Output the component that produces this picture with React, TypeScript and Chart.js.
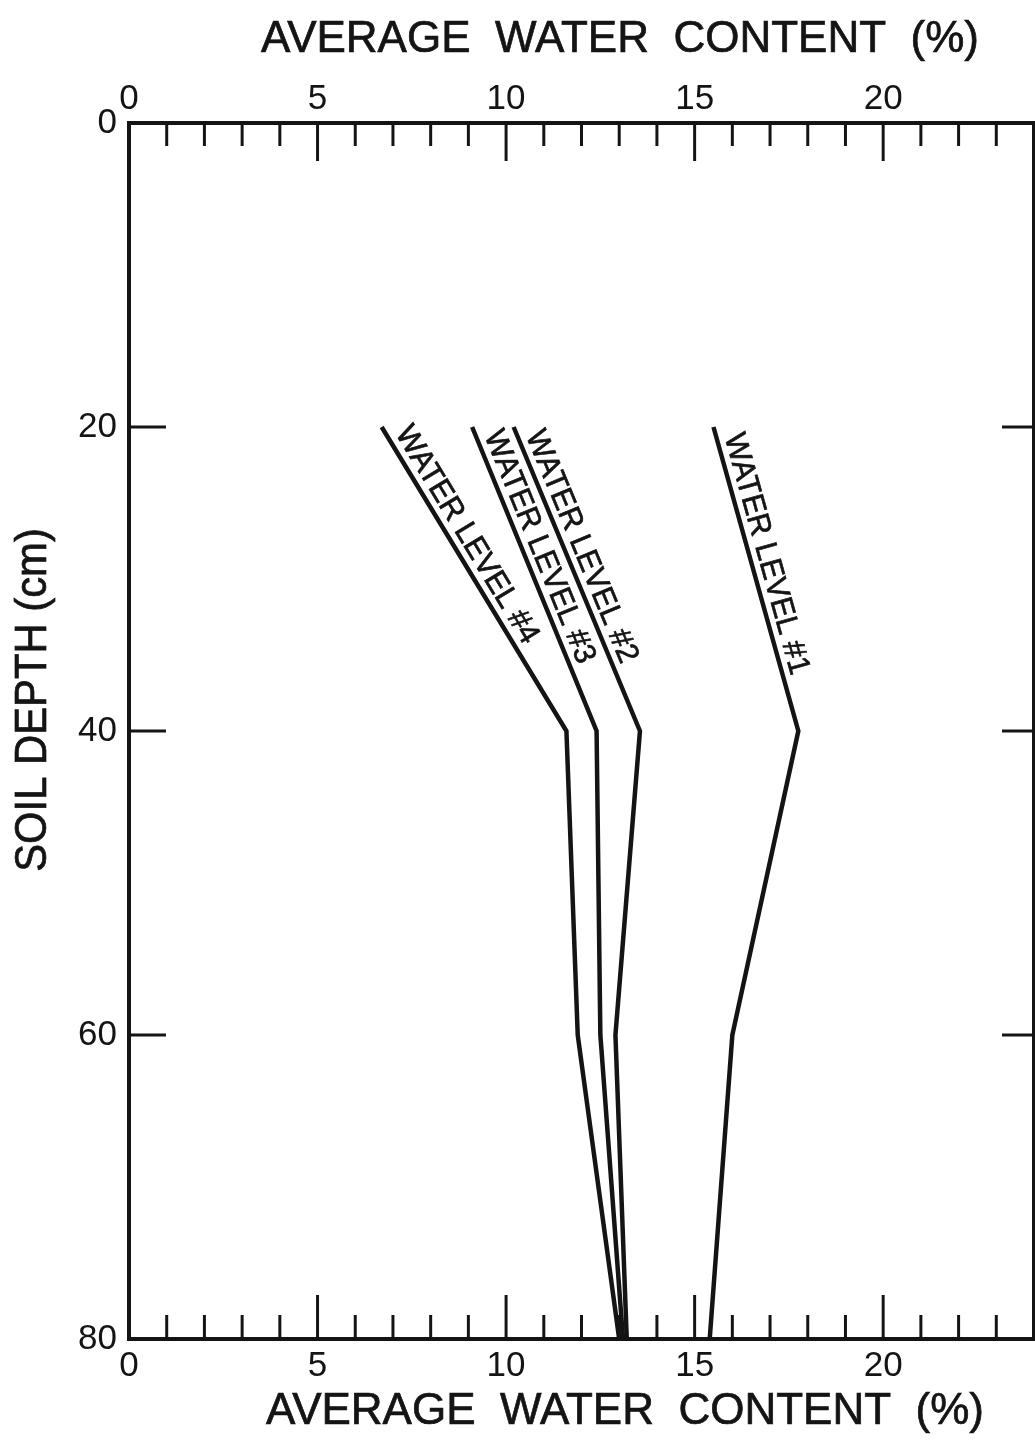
import React, { useEffect, useRef } from "react";
import { Chart, registerables } from "chart.js";

Chart.register(...registerables);

// ---- data ----
const depths = [20, 40, 60, 80];
const level1 = [15.5, 17.75, 16.0, 15.4];
const level2 = [10.2, 13.55, 12.9, 13.2];
const level3 = [9.1, 12.4, 12.5, 13.1];
const level4 = [6.7, 11.6, 11.9, 13.0];
const seriesNames = ["WATER LEVEL #1", "WATER LEVEL #2", "WATER LEVEL #3", "WATER LEVEL #4"];
const xMajorTicks = [0, 5, 10, 15, 20];
const xMinorTicks = [1, 2, 3, 4, 6, 7, 8, 9, 11, 12, 13, 14, 16, 17, 18, 19, 21, 22, 23];
const yTicks = [0, 20, 40, 60, 80];
const yInnerTicks = [20, 40, 60];
const xTitle = "AVERAGE  WATER  CONTENT  (%)";
const yTitle = "SOIL DEPTH (cm)";

const INK = "#141414";
const FONT = '"Liberation Sans", Arial, sans-serif';

const decorPlugin = {
  id: "decor",
  afterDraw(chart: any) {
    const ctx = chart.ctx as CanvasRenderingContext2D;
    const xs = chart.scales.x;
    const ys = chart.scales.y;
    const { top, bottom, left, right } = chart.chartArea;
    ctx.save();
    ctx.strokeStyle = INK;
    ctx.fillStyle = INK;
    ctx.lineCap = "butt";
    ctx.lineWidth = 3;
    const seg = (x1: number, y1: number, x2: number, y2: number) => {
      ctx.beginPath();
      ctx.moveTo(x1, y1);
      ctx.lineTo(x2, y2);
      ctx.stroke();
    };
    // inward x ticks
    xMinorTicks.forEach((v) => {
      const px = xs.getPixelForValue(v);
      seg(px, top, px, top + 23);
      seg(px, bottom, px, bottom - 24);
    });
    xMajorTicks.forEach((v) => {
      if (v === 0) return;
      const px = xs.getPixelForValue(v);
      seg(px, top, px, top + 38);
      seg(px, bottom, px, bottom - 44);
    });
    // inward y ticks
    yInnerTicks.forEach((v) => {
      const py = ys.getPixelForValue(v);
      seg(left, py, left + 37, py);
      seg(right, py, right - 32, py);
    });

    // series labels along lines
    ctx.font = `31px ${FONT}`;
    ctx.textAlign = "left";
    ctx.textBaseline = "alphabetic";
    ctx.lineWidth = 0.7;
    seriesNames.forEach((name, i) => {
      const meta = chart.getDatasetMeta(i);
      const p0 = meta.data[0];
      const p1 = meta.data[1];
      const ang = Math.atan2(p1.y - p0.y, p1.x - p0.x);
      const ux = Math.cos(ang), uy = Math.sin(ang);
      const nx = Math.sin(ang), ny = -Math.cos(ang);
      const along = 12, perp = 8;
      const tx = p0.x + ux * along + nx * perp;
      const ty = p0.y + uy * along + ny * perp;
      ctx.save();
      ctx.translate(tx, ty);
      ctx.rotate(ang);
      ctx.scale(0.97, 1);
      ctx.fillText(name, 0, 0);
      ctx.strokeText(name, 0, 0);
      ctx.restore();
    });

    // axis titles
    ctx.font = `44px ${FONT}`;
    ctx.textAlign = "center";
    ctx.textBaseline = "middle";
    ctx.lineWidth = 0.7;
    ctx.fillText(xTitle, 620, 40);
    ctx.strokeText(xTitle, 620, 40);
    ctx.fillText(xTitle, 625, 1412);
    ctx.strokeText(xTitle, 625, 1412);
    ctx.save();
    ctx.translate(34, 700);
    ctx.rotate(-Math.PI / 2);
    ctx.scale(0.95, 1);
    ctx.fillText(yTitle, 0, 0);
    ctx.strokeText(yTitle, 0, 0);
    ctx.restore();
    ctx.restore();
  },
};

export default function App() {
  const ref = useRef<HTMLCanvasElement | null>(null);
  useEffect(() => {
    if (!ref.current) return;
    const mk = (vals: number[]) => depths.map((d, i) => ({ x: vals[i], y: d }));
    const ds = [level1, level2, level3, level4].map((vals, i) => ({
      label: seriesNames[i],
      data: mk(vals),
      showLine: true,
      borderColor: INK,
      backgroundColor: INK,
      borderWidth: 4.5,
      pointRadius: 0,
      fill: false,
      tension: 0,
      xAxisID: "x",
      yAxisID: "y",
    }));
    const tickFont = { family: FONT, size: 35 };
    const hiddenGrid = { display: true, drawOnChartArea: false, drawTicks: false };
    const border = { display: true, color: INK, width: 4 };
    const chart = new Chart(ref.current, {
      type: "scatter",
      data: { datasets: ds as any },
      options: {
        animation: false,
        responsive: false,
        layout: { padding: 0 },
        plugins: { legend: { display: false }, tooltip: { enabled: false }, title: { display: false } },
        scales: {
          x: {
            type: "linear",
            position: "bottom",
            min: 0,
            max: 24,
            afterBuildTicks: (s: any) => { s.ticks = xMajorTicks.map((v) => ({ value: v })); },
            afterFit: (s: any) => { s.height = 102; },
            grid: hiddenGrid,
            border,
            ticks: { color: INK, font: tickFont, padding: 6, maxRotation: 0, autoSkip: false },
          },
          x2: {
            type: "linear",
            position: "top",
            min: 0,
            max: 24,
            afterBuildTicks: (s: any) => { s.ticks = xMajorTicks.map((v) => ({ value: v })); },
            afterFit: (s: any) => { s.height = 123; },
            grid: hiddenGrid,
            border,
            ticks: { color: INK, font: tickFont, padding: 3, maxRotation: 0, autoSkip: false },
          },
          y: {
            type: "linear",
            position: "left",
            min: 0,
            max: 80,
            reverse: true,
            afterBuildTicks: (s: any) => { s.ticks = yTicks.map((v) => ({ value: v })); },
            afterFit: (s: any) => { s.width = 129; },
            grid: hiddenGrid,
            border,
            ticks: { color: INK, font: tickFont, padding: 12, autoSkip: false },
          },
          y2: {
            type: "linear",
            position: "right",
            min: 0,
            max: 80,
            reverse: true,
            afterFit: (s: any) => { s.width = 1; },
            grid: hiddenGrid,
            border,
            ticks: { display: false },
          },
        },
      } as any,
      plugins: [decorPlugin],
    });
    return () => chart.destroy();
  }, []);
  return (
    <div style={{ position: "absolute", left: 0, top: 0, width: 1035, height: 1441, background: "#fff" }}>
      <canvas ref={ref} width={1035} height={1441} style={{ display: "block" }} />
    </div>
  );
}
